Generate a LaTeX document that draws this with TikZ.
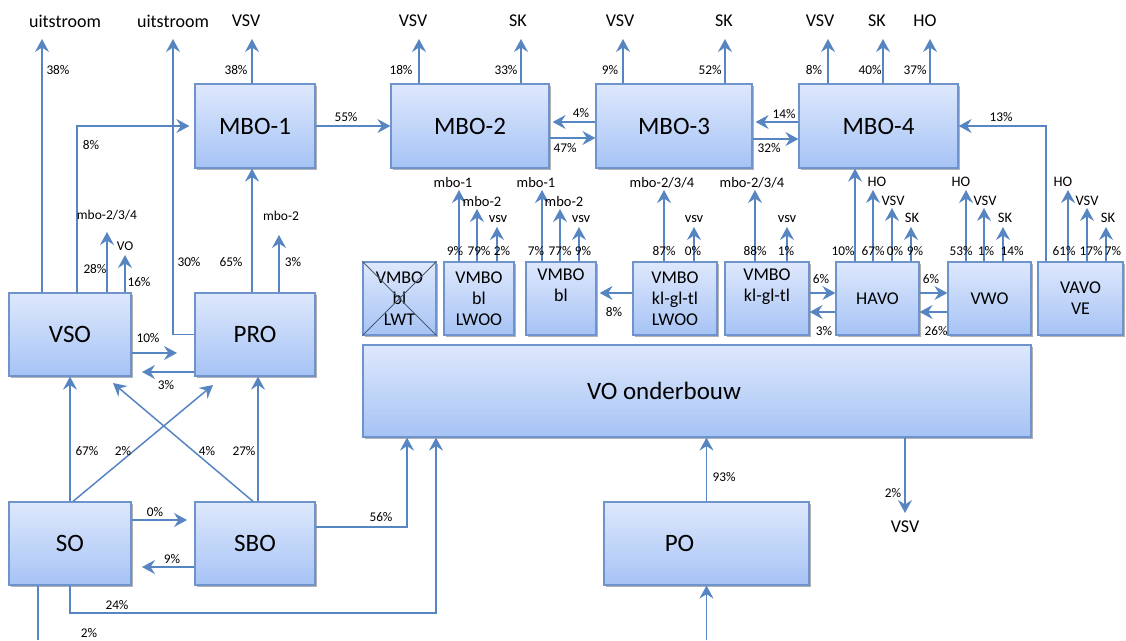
\documentclass[tikz,border=0pt]{standalone}
\usepackage{fontspec}
\setmainfont{Carlito}
\usetikzlibrary{arrows.meta,shadows,calc}
\definecolor{boxtop}{HTML}{DEE8FC}
\definecolor{boxbot}{HTML}{A6C3F5}
\definecolor{boxline}{HTML}{6F94CD}
\definecolor{arrowc}{HTML}{5685C2}
\definecolor{crossc}{HTML}{4A5A70}
\begin{document}
\begin{tikzpicture}[x=1pt,y=-1pt,
 box/.style={draw=boxline,line width=1.2pt,top color=boxtop,bottom color=boxbot,
   drop shadow={shadow xshift=1.5pt,shadow yshift=-2pt,opacity=0.3,fill=black},
   inner sep=0pt,font=\fontsize{25}{30}\selectfont},
 sbox/.style={box,font=\fontsize{18}{21}\selectfont,align=center,minimum height=73pt},
 arr/.style={draw=arrowc,line width=1.5pt,-{Stealth[length=13pt,width=14pt,inset=4.5pt]}},
 ln/.style={draw=arrowc,line width=1.5pt},
 pct/.style={font=\fontsize{13.3}{15}\selectfont,inner sep=0pt},
 toplbl/.style={font=\fontsize{18}{21}\selectfont,inner sep=0pt},
 sml/.style={font=\fontsize{14.5}{16}\selectfont,inner sep=0pt},
 tiny/.style={font=\fontsize{13.5}{15}\selectfont,inner sep=0pt}
]
\useasboundingbox (0,0) rectangle (1126,640);

% ---- main boxes
\node[box,minimum width=120pt,minimum height=84pt] (mbo1) at (255,126) {MBO-1};
\node[box,minimum width=158pt,minimum height=84pt] (mbo2) at (470,126) {MBO-2};
\node[box,minimum width=156pt,minimum height=84pt] (mbo3) at (674,126) {MBO-3};
\node[box,minimum width=159pt,minimum height=84pt] (mbo4) at (878.5,126) {MBO-4};
\node[box,minimum width=122pt,minimum height=83pt] (vso) at (70,334.5) {VSO};
\node[box,minimum width=120pt,minimum height=83pt] (pro) at (255,334.5) {PRO};
\node[box,minimum width=122pt,minimum height=83pt] (so) at (70,543.5) {SO};
\node[box,minimum width=120pt,minimum height=83pt] (sbo) at (255,543.5) {SBO};
\node[box,minimum width=205pt,minimum height=83pt,
  label={[xshift=-27pt,font=\fontsize{25}{30}\selectfont]center:PO}] (po) at (706.5,543.5) {};
\node[box,minimum width=668pt,minimum height=92pt,
  label={[xshift=-33pt,font=\fontsize{25}{30}\selectfont]center:VO onderbouw}] (vo) at (697,391) {};

% ---- small boxes
\node[sbox,minimum width=73pt] (lwt) at (399.5,298.5) {VMBO\\bl\\LWT};
\node[sbox,minimum width=70pt] (lwoo) at (479,298.5) {VMBO\\bl\\LWOO};
\node[sbox,minimum width=70pt] (bl) at (561,298.5) {VMBO\\bl\\\strut};
\node[sbox,minimum width=84pt] (kllwoo) at (675,298.5) {VMBO\\kl-gl-tl\\LWOO};
\node[sbox,minimum width=84pt] (kl) at (767,298.5) {VMBO\\kl-gl-tl\\\strut};
\node[sbox,minimum width=83pt] (havo) at (877.5,298.5) {HAVO};
\node[sbox,minimum width=83pt] (vwo) at (989.5,298.5) {VWO};
\node[sbox,minimum width=85pt] (vavo) at (1080.5,298.5) {VAVO\\VE};
\draw[crossc,line width=1pt] (lwt.north west) -- (lwt.south east) (lwt.north east) -- (lwt.south west);

% ---- top outputs of the MBO row and VSO/PRO
\foreach \bx/\xx/\lbl/\lx/\pc/\px in {
  vso/42/uitstroom/65/38\%/58,
  mbo1/252/VSV/246/38\%/236,
  mbo2/419/VSV/413/18\%/401,
  mbo2/521/SK/518/33\%/506,
  mbo3/623/VSV/620/9\%/610,
  mbo3/725/SK/724/52\%/710,
  mbo4/828/VSV/820/8\%/814,
  mbo4/883/SK/877/40\%/870,
  mbo4/930/HO/925/37\%/915}{
  \coordinate (t-\xx) at (\xx,39);
  \draw[arr] (\bx.north -| t-\xx) -- (t-\xx);
  \node[toplbl] (tl-\xx) at (\lx,21) {\lbl};
  \node[pct] (tp-\xx) at (\px,70) {\pc};
}

% second uitstroom (from PRO)
\coordinate (u2) at (173,39);
\draw[arr] (pro.west) -| (u2);
\node[toplbl] (u2l) at (173,21) {uitstroom};
\node[pct] (p30) at (189,262) {30\%};

% VSO -> MBO-1 (8%)
\coordinate (v8) at (77,293);
\draw[arr,shorten >=5pt] (v8) |- (mbo1.west);
\node[pct] (p8) at (91,145) {8\%};

% VSO small outputs
\coordinate (vm) at (107,232);
\draw[arr] (vso.north -| vm) -- (vm);
\node[tiny] (vml) at (107,215) {mbo-2/3/4};
\node[pct] (p28) at (95,269) {28\%};
\coordinate (vv) at (125,255);
\draw[arr] (vso.north -| vv) -- (vv);
\node[tiny] (vvl) at (125,246) {VO};
\node[pct] (p16) at (139,282) {16\%};

% PRO outputs
\draw[arr] (pro.north -| 252,0) -- (mbo1.south -| 252,0);
\node[pct] (p65) at (231,262) {65\%};
\coordinate (pm) at (279,235);
\draw[arr] (pro.north -| pm) -- (pm);
\node[tiny] (pml) at (281,216) {mbo-2};
\node[pct] (p3a) at (293,262) {3\%};

% VSO <-> PRO
\coordinate (a10) at (177,353);
\draw[arr] (vso.east |- a10) -- (a10);
\node[pct] (p10) at (148,338) {10\%};
\coordinate (a3) at (142,372);
\draw[arr] (pro.west |- a3) -- (a3);
\node[pct] (p3b) at (166,385) {3\%};

% SO / SBO upward
\draw[arr] (so.north) -- (vso.south);
\node[pct] (p67) at (87,451) {67\%};
\coordinate (d1) at (213,385);
\draw[arr] ($(so.north)+(3,0)$) -- (d1);
\node[pct] (p2a) at (123,451) {2\%};
\coordinate (d2) at (113,383);
\draw[arr] ($(sbo.north)+(-2,0)$) -- (d2);
\node[pct] (p4) at (207,451) {4\%};
\draw[arr] (sbo.north -| 258,0) -- (pro.south -| 258,0);
\node[pct] (p27) at (244,451) {27\%};

% SO <-> SBO
\coordinate (a0) at (187,520);
\draw[arr] (so.east |- a0) -- (a0);
\node[pct] (p0) at (155,512) {0\%};
\coordinate (a9) at (142,567);
\draw[arr] (sbo.west |- a9) -- (a9);
\node[pct] (p9) at (172,559) {9\%};

% SBO -> VO, SO -> VO
\draw[arr] (sbo.east |- 0,527) -| (vo.south -| 407,0);
\node[pct] (p56) at (381,517) {56\%};
\draw[arr] (so.south) -- (70,613) -| (vo.south -| 436,0);
\node[pct] (p24) at (117,605) {24\%};
\coordinate (so2) at (38,640);
\draw[ln] (so.south -| so2) -- (so2);
\node[pct] (p2b) at (89,633) {2\%};

% MBO row horizontal
\draw[arr] (mbo1.east) -- (mbo2.west);
\node[pct] (p55) at (346,117) {55\%};
\draw[arr,shorten >=3pt] (mbo3.west |- 0,122) -- (mbo2.east |- 0,122);
\node[pct] (p4b) at (581,113) {4\%};
\draw[arr] (mbo2.east |- 0,138) -- (mbo3.west |- 0,138);
\node[pct] (p47) at (565,148) {47\%};
\draw[arr,shorten >=3pt] (mbo4.west |- 0,122) -- (mbo3.east |- 0,122);
\node[pct] (p14) at (784,114) {14\%};
\draw[arr] (mbo3.east |- 0,139) -- (mbo4.west |- 0,139);
\node[pct] (p32) at (769,148) {32\%};
\draw[arr] (vavo.north -| 1046,0) |- (mbo4.east);
\node[pct] (p13) at (1001,117) {13\%};

% HAVO -> MBO-4
\draw[arr] (havo.north -| 855,0) -- (mbo4.south -| 855,0);
\node[pct] (p10b) at (843,251) {10\%};

% small-box outputs
\foreach \bx/\xx/\yy/\lbl/\lx/\ly in {
  lwoo/459/190/mbo-1/453/183, lwoo/477/209/mbo-2/482/202, lwoo/497/227/vsv/498/219,
  bl/542/190/mbo-1/536/183, bl/560/209/mbo-2/564/202, bl/579/227/vsv/581/219,
  kllwoo/664/190/mbo-2\slash 3\slash 4/662/183, kllwoo/694/227/vsv/694/219,
  kl/755/190/mbo-2\slash 3\slash 4/752/183, kl/787/227/vsv/787/219,
  havo/873/190/HO/877/182, havo/892/208/VSV/893/201, havo/911/227/SK/912/218,
  vwo/966/190/HO/961/182, vwo/984/208/VSV/985/201, vwo/1003/227/SK/1005/218,
  vavo/1068/190/HO/1063/182, vavo/1087/208/VSV/1087/201, vavo/1106/227/SK/1108/218}{
  \coordinate (s-\xx) at (\xx,\yy);
  \draw[arr] (\bx.north -| s-\xx) -- (s-\xx);
  \node[sml] (sl-\xx) at (\lx,\ly) {\lbl};
}
\foreach \pc/\px in {9\%/455, 79\%/479, 2\%/502, 7\%/536, 77\%/560, 9\%/583,
  87\%/664, 0\%/693, 88\%/755, 1\%/786, 67\%/873, 0\%/895, 9\%/915,
  53\%/961, 1\%/986, 14\%/1012, 61\%/1064, 17\%/1091, 7\%/1113}{
  \node[pct] at (\px,251) {\pc};
}

% horizontal arrows among small boxes
\draw[arr,shorten >=3pt] (kllwoo.west |- 0,293) -- (bl.east |- 0,293);
\node[pct] (p8b) at (614,312) {8\%};
\draw[arr] (kl.east |- 0,293) -- (havo.west |- 0,293);
\node[pct] (p6a) at (821,279) {6\%};
\draw[arr] (havo.west |- 0,312) -- (kl.east |- 0,312);
\node[pct] (p3c) at (824,331) {3\%};
\draw[arr] (havo.east |- 0,293) -- (vwo.west |- 0,293);
\node[pct] (p6b) at (931,279) {6\%};
\draw[arr] (vwo.west |- 0,312) -- (havo.east |- 0,312);
\node[pct] (p26) at (936,331) {26\%};

% VO and PO
\coordinate (vsvb) at (905,513);
\draw[arr] (vo.south -| vsvb) -- (vsvb);
\node[pct] (p2c) at (893,493) {2\%};
\node[toplbl] (vsvbl) at (905,527) {VSV};
\draw[arr] (po.north) -- (vo.south -| po.north);
\node[pct] (p93) at (724,477) {93\%};
\coordinate (pin) at (706.5,640);
\draw[arr] (pin) -- (po.south);
\end{tikzpicture}
\end{document}
